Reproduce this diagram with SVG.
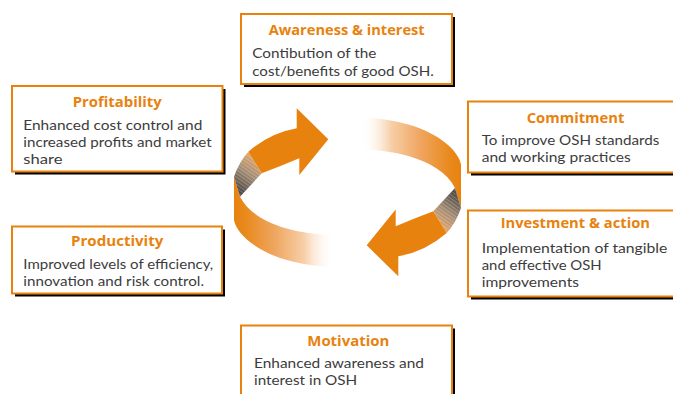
<svg xmlns="http://www.w3.org/2000/svg" xmlns:xlink="http://www.w3.org/1999/xlink" width="673" height="394" viewBox="0 0 673 394">
  <defs>
    <linearGradient id="fade" gradientUnits="userSpaceOnUse" x1="234" y1="0" x2="334" y2="0">
      <stop offset="0" stop-color="#E8820E"/>
      <stop offset="0.12" stop-color="#E98A1E"/>
      <stop offset="0.4" stop-color="#EFA55E"/>
      <stop offset="0.7" stop-color="#F7CFA8"/>
      <stop offset="1" stop-color="#FFFFFF" stop-opacity="0"/>
    </linearGradient>
    <linearGradient id="twist" gradientUnits="userSpaceOnUse" x1="257" y1="160" x2="236" y2="188">
      <stop offset="0" stop-color="#DDA46C"/>
      <stop offset="0.45" stop-color="#A58C74"/>
      <stop offset="1" stop-color="#4E4A46"/>
    </linearGradient>
    <pattern id="stripes" patternUnits="userSpaceOnUse" width="3" height="3" patternTransform="rotate(35)">
      <rect width="3" height="1" fill="#FFFFFF" fill-opacity="0.22"/>
    </pattern>
  </defs>
  <style>
    .frame { fill: #FFFFFF; stroke: #E8820E; stroke-width: 2; }
    .shadow { fill: #000000; }
    .title { font-family: "Open Sans", "Noto Sans", sans-serif; font-weight: bold; font-size: 15px; fill: #E8820E; text-anchor: middle; }
    .body { font-family: Lato, "Open Sans", sans-serif; font-size: 14px; fill: #3C3C3C; }
    .solid { fill: #E8820E; }
  </style>

  <rect width="673" height="394" fill="#FFFFFF"/>

  <!-- circular ribbon arrows: left half drawn once, right half is the same shape turned 180 degrees -->
  <g id="connectors">
    <g id="loop-half">
      <path d="M234,176.7 L234,220 C236,232 252,248 280,258 C298,264 316,266.5 334,267 L334,235 C316,234.5 300,232.5 285,228 C265,222 248,212 240,196.7 Z" fill="url(#fade)"/>
      <path d="M248.3,151.7 L261.7,173.3 L240,196.7 L234,176.7 Q239,162 248.3,151.7 Z" fill="url(#twist)"/>
      <path d="M248.3,151.7 L261.7,173.3 L240,196.7 L234,176.7 Q239,162 248.3,151.7 Z" fill="url(#stripes)"/>
      <path class="solid" d="M248.3,151.7 Q270,133 296.7,128.3 L296.7,108.3 L328.3,139.3 L299.3,175 L299.3,158.3 Q280,166.5 261.7,173.3 Z"/>
    </g>
    <use xlink:href="#loop-half" href="#loop-half" transform="rotate(180 347.5 192.3)"/>
  </g>

  <g id="awareness">
    <rect class="shadow" x="244" y="17" width="211" height="70"/>
    <rect class="frame" x="241" y="14" width="211" height="70"/>
    <text class="title" x="346.7" y="35" textLength="156" lengthAdjust="spacingAndGlyphs">Awareness &amp; interest</text>
    <text class="body" x="252.3" y="58" textLength="124" lengthAdjust="spacingAndGlyphs">Contibution of the</text>
    <text class="body" x="252.3" y="75.5" textLength="181.5" lengthAdjust="spacingAndGlyphs">cost/benefits of good OSH.</text>
  </g>

  <g id="profitability">
    <rect class="shadow" x="15" y="89" width="210.5" height="85.5"/>
    <rect class="frame" x="12" y="86" width="210.5" height="85.5"/>
    <text class="title" x="117.2" y="107" textLength="89" lengthAdjust="spacingAndGlyphs">Profitability</text>
    <text class="body" x="23.3" y="129.5" textLength="179" lengthAdjust="spacingAndGlyphs">Enhanced cost control and</text>
    <text class="body" x="23.3" y="146.5" textLength="188.3" lengthAdjust="spacingAndGlyphs">increased profits and market</text>
    <text class="body" x="23.3" y="163.5" textLength="39.3" lengthAdjust="spacingAndGlyphs">share</text>
  </g>

  <g id="commitment">
    <rect class="shadow" x="471" y="104.5" width="220" height="71"/>
    <rect class="frame" x="468" y="101.5" width="220" height="71"/>
    <text class="title" x="575.5" y="122.7" textLength="97.7" lengthAdjust="spacingAndGlyphs">Commitment</text>
    <text class="body" x="481.7" y="145" textLength="177.7" lengthAdjust="spacingAndGlyphs">To improve OSH standards</text>
    <text class="body" x="481.7" y="161.7" textLength="149" lengthAdjust="spacingAndGlyphs">and working practices</text>
  </g>

  <g id="investment">
    <rect class="shadow" x="471" y="213.5" width="220" height="86"/>
    <rect class="frame" x="468" y="210.5" width="220" height="86"/>
    <text class="title" x="575.3" y="228.3" textLength="149.3" lengthAdjust="spacingAndGlyphs">Investment &amp; action</text>
    <text class="body" x="481.7" y="253.3" textLength="185.7" lengthAdjust="spacingAndGlyphs">Implementation of tangible</text>
    <text class="body" x="481.7" y="270" textLength="120" lengthAdjust="spacingAndGlyphs">and effective OSH</text>
    <text class="body" x="481.7" y="286.7" textLength="97.3" lengthAdjust="spacingAndGlyphs">improvements</text>
  </g>

  <g id="productivity">
    <rect class="shadow" x="15" y="229.5" width="210" height="67"/>
    <rect class="frame" x="12" y="226.5" width="210" height="67"/>
    <text class="title" x="117.2" y="246" textLength="92.3" lengthAdjust="spacingAndGlyphs">Productivity</text>
    <text class="body" x="23.3" y="269.3" textLength="190" lengthAdjust="spacingAndGlyphs">Improved levels of efficiency,</text>
    <text class="body" x="23.3" y="286" textLength="180.7" lengthAdjust="spacingAndGlyphs">innovation and risk control.</text>
  </g>

  <g id="motivation">
    <rect class="shadow" x="244" y="328.5" width="211" height="100"/>
    <rect class="frame" x="241" y="325.5" width="211" height="100"/>
    <text class="title" x="348.3" y="345.7" textLength="82" lengthAdjust="spacingAndGlyphs">Motivation</text>
    <text class="body" x="254" y="368.3" textLength="170" lengthAdjust="spacingAndGlyphs">Enhanced awareness and</text>
    <text class="body" x="254" y="385" textLength="103.3" lengthAdjust="spacingAndGlyphs">interest in OSH</text>
  </g>
</svg>
